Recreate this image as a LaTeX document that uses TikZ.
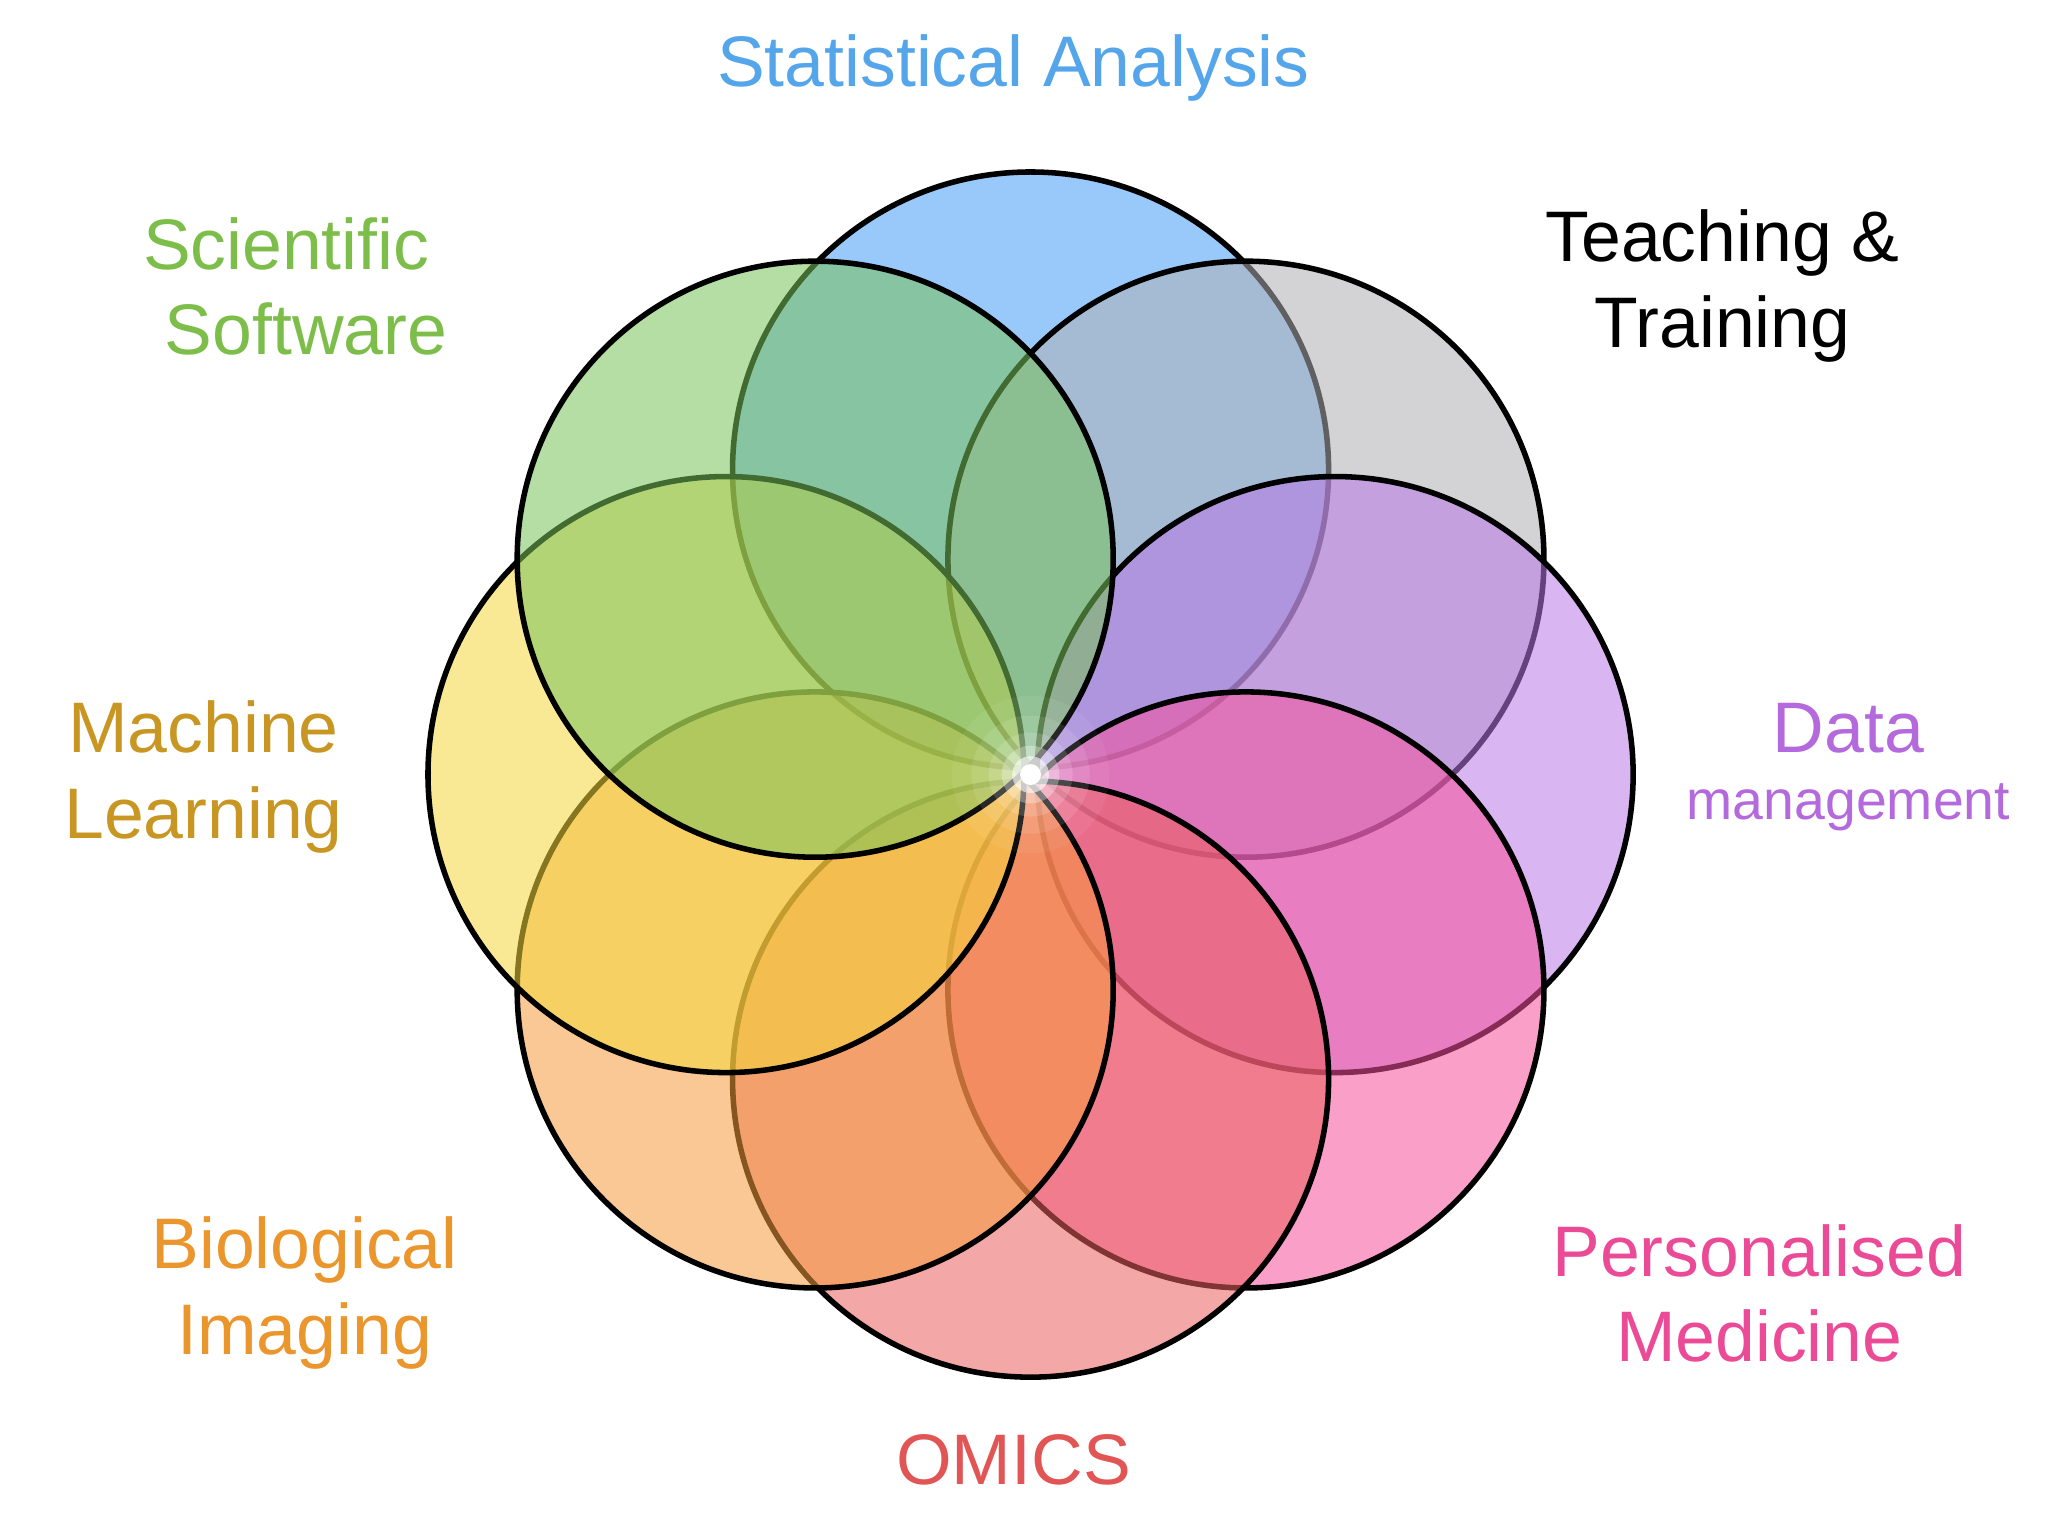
\documentclass[tikz,border=0pt]{standalone}
\usepackage{fontspec}
\setmainfont{Liberation Sans}
\usetikzlibrary{calc}
\begin{document}
\begin{tikzpicture}[x=0.01cm,y=-0.01cm]
\useasboundingbox (0,0) rectangle (1560,1170);
\definecolor{cBlue}{RGB}{70,155,245}
\definecolor{cGray}{RGB}{175,175,180}
\definecolor{cPurple}{RGB}{185,120,230}
\definecolor{cPink}{RGB}{245,80,155}
\definecolor{cRed}{RGB}{235,95,95}
\definecolor{cOrange}{RGB}{245,155,60}
\definecolor{cYellow}{RGB}{245,215,60}
\definecolor{cGreen}{RGB}{120,195,90}
\definecolor{tBlue}{RGB}{85,165,235}
\definecolor{tGreen}{RGB}{125,190,75}
\definecolor{tGold}{RGB}{200,150,35}
\definecolor{tPurple}{RGB}{180,105,220}
\definecolor{tOrange}{RGB}{235,150,45}
\definecolor{tPink}{RGB}{235,75,150}
\definecolor{tRed}{RGB}{225,85,85}
\tikzset{petal/.style={draw=black,line width=1.2pt,fill opacity=0.55,fill=#1},
  lbl/.style={font=\fontsize{15.5}{18.5}\selectfont,align=center,text=#1}}
\coordinate (c) at (785,590);
\foreach \a/\col in {-90/cBlue,-45/cGray,0/cPurple,45/cPink,90/cRed,135/cOrange,180/cYellow,225/cGreen}{
  \path[petal=\col] ($(c)+(\a:232)$) circle (227);
}
\foreach \r/\o in {60/0.06,45/0.1,32/0.15,22/0.3,14/0.6,8/1}{
  \fill[white,opacity=\o] (c) circle (\r);
}
\node[lbl=tBlue] (sa) at (772,52) {Statistical Analysis};
\node[lbl=tGreen] (ss) at (218,218) {Scientific\\\ \ Software};
\node[lbl=black] (tt) at (1312,218) {Teaching \&\\Training};
\node[lbl=tGold] (ml) at (155,592) {Machine\\Learning};
\node[lbl=tPurple] (dm) at (1408,555) {Data};
\node[text=tPurple,font=\fontsize{12}{14}\selectfont] (dm2) at (1408,615) {management};
\node[lbl=tOrange] (bi) at (232,985) {Biological\\Imaging};
\node[lbl=tPink] (pm) at (1340,985) {Personalised\\Medicine};
\node[lbl=tRed] (om) at (772,1112) {OMICS};
\end{tikzpicture}
\end{document}
